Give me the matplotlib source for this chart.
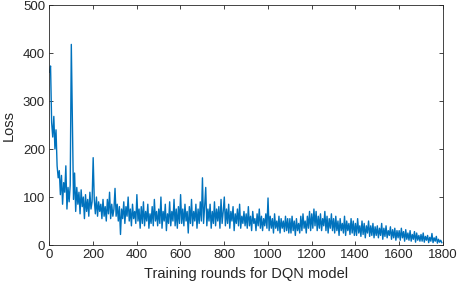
import numpy as np
import matplotlib
matplotlib.use('Agg')
import matplotlib.pyplot as plt

# Loss values, one every 5 training rounds
loss_0_500 = [
    360, 373, 255, 225, 268, 200, 240, 165, 140, 155, 105, 145, 85, 130, 110, 165, 75, 120, 90, 125,
    418, 260, 95, 150, 70, 120, 85, 110, 65, 115, 80, 100, 55, 105, 70, 95, 60, 110, 75, 90,
    182, 95, 65, 100, 60, 90, 70, 85, 55, 95, 60, 80, 50, 95, 65, 110, 55, 85, 60, 75,
    118, 60, 85, 50, 80, 22, 75, 55, 90, 45, 80, 60, 100, 50, 75, 40, 85, 55, 70, 45,
    105, 50, 75, 35, 80, 45, 90, 40, 70, 50, 85, 35, 65, 45, 80, 40, 95, 50, 70, 40,
]
loss_500_1000 = [
    75, 45, 100, 35, 70, 50, 85, 30, 65, 45, 90, 40, 70, 50, 95, 40, 75, 35, 80, 45,
    105, 45, 75, 40, 85, 50, 70, 25, 80, 45, 95, 40, 70, 50, 85, 35, 75, 45, 90, 50,
    140, 45, 80, 120, 40, 75, 50, 85, 35, 70, 45, 90, 40, 75, 50, 80, 35, 95, 45, 70,
    100, 40, 75, 45, 85, 35, 70, 50, 80, 30, 65, 45, 75, 40, 85, 35, 60, 45, 70, 40,
    65, 35, 80, 40, 60, 30, 70, 45, 55, 30, 65, 40, 75, 35, 60, 30, 55, 40, 65, 35,
]
loss_1000_1500 = [
    98, 30, 60, 35, 55, 25, 65, 35, 50, 30, 60, 25, 55, 35, 50, 28, 60, 30, 55, 25,
    55, 25, 60, 30, 50, 20, 55, 30, 45, 25, 60, 30, 65, 35, 50, 25, 60, 35, 70, 30,
    65, 35, 75, 40, 70, 30, 60, 35, 65, 30, 55, 40, 70, 30, 60, 25, 55, 35, 65, 30,
    55, 25, 60, 30, 50, 20, 55, 30, 45, 25, 60, 20, 50, 30, 45, 22, 55, 25, 50, 20,
    45, 20, 55, 25, 40, 18, 50, 22, 45, 15, 40, 25, 50, 18, 40, 20, 45, 15, 38, 20,
]
loss_1500_1800 = [
    40, 15, 35, 20, 45, 12, 35, 18, 40, 15, 30, 20, 38, 12, 32, 15, 35, 10, 30, 15,
    30, 10, 35, 15, 28, 8, 32, 12, 25, 10, 30, 8, 22, 12, 28, 6, 25, 10, 20, 8,
    22, 8, 25, 6, 18, 10, 20, 5, 16, 8, 24, 5, 15, 8, 18, 4, 12, 6, 10, 5,
]
loss = loss_0_500 + loss_500_1000 + loss_1000_1500 + loss_1500_1800
rounds = np.arange(len(loss)) * 5 + 1

x_ticks = [0, 200, 400, 600, 800, 1000, 1200, 1400, 1600, 1800]
y_ticks = [0, 100, 200, 300, 400, 500]

plt.rcParams['font.family'] = ['Liberation Sans', 'DejaVu Sans']

fig = plt.figure(figsize=(4.58, 2.97), dpi=100)
ax = fig.add_axes([0.1075, 0.175, 0.859, 0.808])

ax.plot(rounds, loss, color='#0072BD', linewidth=1.0)

ax.set_xlim(0, 1800)
ax.set_ylim(0, 500)
ax.set_xticks(x_ticks)
ax.set_yticks(y_ticks)
ax.tick_params(direction='in', top=True, right=True, length=3, width=0.6,
               labelsize=9.5, colors='#262626', pad=3)
for s in ax.spines.values():
    s.set_color('#262626')
    s.set_linewidth(0.6)

ax.set_xlabel('Training rounds for DQN model', fontsize=10.5, color='#262626', labelpad=4)
ax.set_ylabel('Loss', fontsize=10.5, color='#262626', labelpad=5)

fig.savefig('out.png', dpi=100)
